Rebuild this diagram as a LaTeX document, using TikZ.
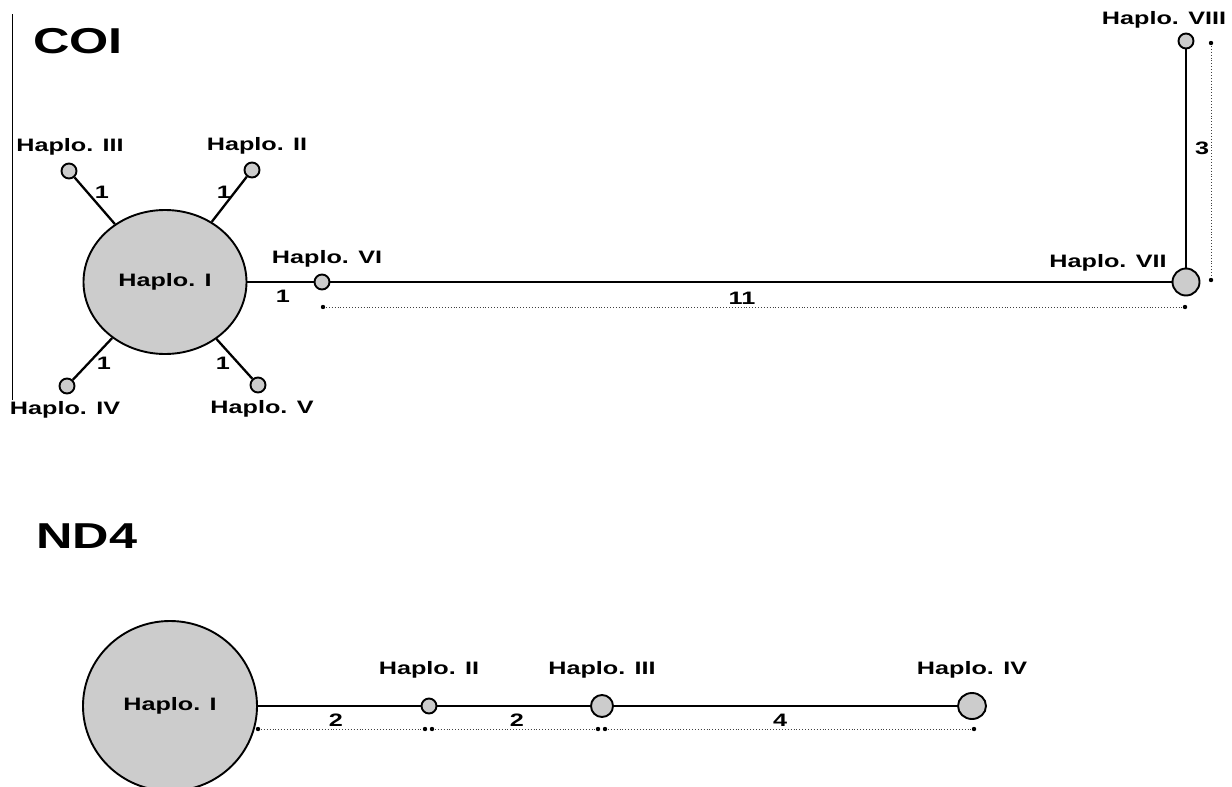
\documentclass[tikz,border=0pt]{standalone}
\usepackage{fontspec}
\setmainfont{Liberation Sans}[FakeStretch=1.4]
\usepackage{tikz}
\usetikzlibrary{shapes.geometric}

\begin{document}
\begin{tikzpicture}[x=1pt,y=-1pt,
  hap/.style={draw, line width=1.9pt, fill=gray!40, circle, inner sep=0pt},
  big/.style={hap, ellipse},
  lab/.style={font=\fontsize{18}{18}\selectfont\bfseries, inner sep=0pt},
  num/.style={font=\fontsize{18}{18}\selectfont\bfseries, inner sep=0pt},
  ttl/.style={font=\fontsize{36}{36}\selectfont\bfseries, inner sep=0pt},
  edge/.style={line width=2.3pt},
  dim/.style={gray!50!black, line width=0.9pt, dotted}]

 \useasboundingbox (0,0) rectangle (1232,787);
 \clip (0,0) rectangle (1232,787);

 % COI
 \draw[line width=0.9pt] (12,14) -- (12,400);

 \node[ttl] (coi) at (78,41) {COI};

 \node[big, minimum width=163pt, minimum height=144pt, lab] (c1) at (165,282) {Haplo. I};

 \node[hap, minimum size=15pt] (c2) at (252,170) {};
 \node[hap, minimum size=15pt] (c3) at (69,171) {};
 \node[hap, minimum size=15pt] (c4) at (67,386) {};
 \node[hap, minimum size=15pt] (c5) at (258,385) {};
 \node[hap, minimum size=15pt] (c6) at (322,282) {};
 \node[hap, minimum size=27pt] (c7) at (1186,282) {};
 \node[hap, minimum size=15pt] (c8) at (1186,41) {};

 \node[lab] (t2) at (257,146) {Haplo. II};
 \node[lab] (t3) at (70,147) {Haplo. III};
 \node[lab] (t4) at (65,410) {Haplo. IV};
 \node[lab] (t5) at (262,409) {Haplo. V};
 \node[lab] (t6) at (327,259) {Haplo. VI};
 \node[lab] (t7) at (1108,263) {Haplo. VII};
 \node[lab] (t8) at (1164,20) {Haplo. VIII};

 \node[num] (m2) at (224,192) {1};
 \node[num] (m3) at (102,192) {1};
 \node[num] (m4) at (104,363) {1};
 \node[num] (m5) at (223,363) {1};
 \node[num] (m6) at (283,296) {1};
 \node[num] (m7) at (742,298) {11};
 \node[num] (m8) at (1202,148) {3};

 \draw[edge] (c1) -- (c2);
 \draw[edge] (c1) -- (c3);
 \draw[edge] (c1) -- (c4);
 \draw[edge] (c1) -- (c5);
 \draw[edge] (c1) -- (c6);
 \draw[edge] (c6) -- (c7);
 \draw[edge] (c7) -- (c8);

 \coordinate (a1) at (323,307);
 \coordinate (a2) at (1185,307);
 \coordinate (b1) at (1211,43);
 \coordinate (b2) at (1211,280);
 \draw[dim] (a1) -- (a2);
 \draw[dim] (b1) -- (b2);

 % ND4
 \node[ttl] (nd) at (87,536) {ND4};

 \node[big, minimum width=174pt, minimum height=170pt, lab] (n1) at (170,706) {Haplo. I};
 \node[hap, minimum size=15pt] (n2) at (429,706) {};
 \node[hap, minimum size=22pt] (n3) at (602,706) {};
 \node[hap, minimum width=28pt, minimum height=26pt, ellipse] (n4) at (972,706) {};

 \node[lab] (s2) at (429,670) {Haplo. II};
 \node[lab] (s3) at (602,670) {Haplo. III};
 \node[lab] (s4) at (972,670) {Haplo. IV};

 \node[num] (k2) at (336,720) {2};
 \node[num] (k3) at (517,720) {2};
 \node[num] (k4) at (780,720) {4};

 \draw[edge] (n1) -- (n2);
 \draw[edge] (n2) -- (n3);
 \draw[edge] (n3) -- (n4);

 \coordinate (e1) at (258,729);
 \coordinate (e2) at (425,729);
 \coordinate (e3) at (432,729);
 \coordinate (e4) at (598,729);
 \coordinate (e5) at (605,729);
 \coordinate (e6) at (974,729);
 \draw[dim] (e1) -- (e2);
 \draw[dim] (e3) -- (e4);
 \draw[dim] (e5) -- (e6);

 \foreach \d in {a1,a2,b1,b2,e1,e2,e3,e4,e5,e6}
  \fill (\d) circle (2.2pt);

\end{tikzpicture}
\end{document}
